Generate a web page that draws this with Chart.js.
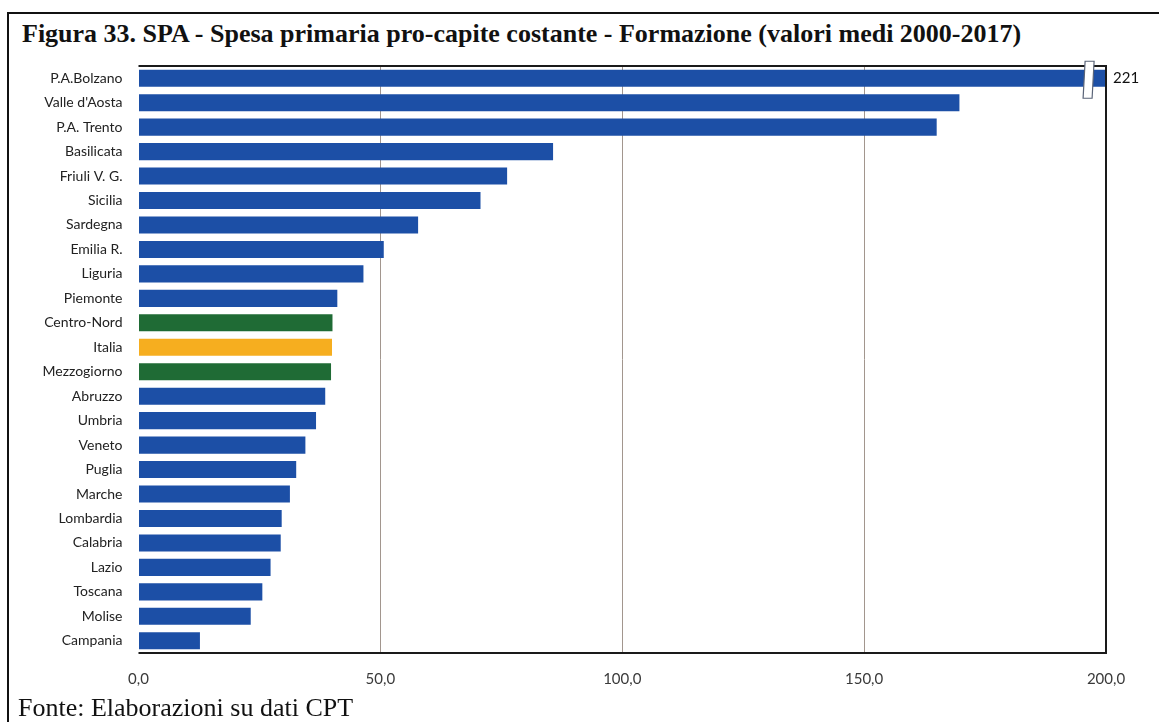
<!DOCTYPE html>
<html>
<head>
<meta charset="utf-8">
<script src="https://cdn.jsdelivr.net/npm/chart.js@4.4.1/dist/chart.umd.min.js"></script>
<style>
  html, body { margin: 0; padding: 0; background: #fff; overflow: hidden; }
  #wrap { position: relative; width: 1159px; height: 722px; }
  #frame {
    position: absolute; left: 7px; top: 12px; width: 1200px; height: 760px;
    border-left: 2px solid #111; border-top: 2px solid #111;
  }
  #title {
    position: absolute; left: 22px; top: 19px;
    font: bold 26px "Liberation Serif", "Times New Roman", serif; color: #111;
    white-space: nowrap;
  }
  #source {
    position: absolute; left: 18px; top: 693px;
    font: 26px "Liberation Serif", "Times New Roman", serif; color: #111;
    white-space: nowrap;
  }
  canvas { position: absolute; left: 0; top: 0; }
</style>
</head>
<body>
<div id="wrap">
  <div id="frame"></div>
  <div id="title">Figura 33. SPA - Spesa primaria pro-capite costante - Formazione (valori medi 2000-2017)</div>
  <canvas id="spaChart" width="1159" height="722"></canvas>
  <div id="source">Fonte: Elaborazioni su dati CPT</div>
</div>
<script>
"use strict";

const regions = [
  "P.A.Bolzano", "Valle d'Aosta", "P.A. Trento", "Basilicata", "Friuli V. G.",
  "Sicilia", "Sardegna", "Emilia R.", "Liguria", "Piemonte", "Centro-Nord",
  "Italia", "Mezzogiorno", "Abruzzo", "Umbria", "Veneto", "Puglia", "Marche",
  "Lombardia", "Calabria", "Lazio", "Toscana", "Molise", "Campania",
];

const spesa = [
  221, 169.7, 165.0, 85.7, 76.2, 70.7, 57.8, 50.7, 46.5, 41.1, 40.1,
  40.0, 39.8, 38.6, 36.7, 34.5, 32.6, 31.3, 29.6, 29.4, 27.3, 25.6, 23.2, 12.7,
];

const xTicks = [0, 50, 100, 150, 200];
const xMax = 200;

const BLUE = "#1c4fa6";
const GREEN = "#1f6b35";
const ORANGE = "#f6ae1f";

const barColors = regions.map((r) => {
  if (r === "Italia") return ORANGE;
  if (r === "Centro-Nord" || r === "Mezzogiorno") return GREEN;
  return BLUE;
});

// frame of the plot area: top, right and bottom only
const plotFrame = {
  id: "plotFrame",
  afterDatasetsDraw(chart) {
    const { ctx, chartArea: a } = chart;
    ctx.save();
    ctx.strokeStyle = "#1a1a1a";
    ctx.lineWidth = 2;
    ctx.beginPath();
    ctx.moveTo(a.left, a.top);
    ctx.lineTo(a.right, a.top);
    ctx.lineTo(a.right, a.bottom);
    ctx.lineTo(a.left, a.bottom);
    ctx.stroke();
    ctx.restore();
  },
};

// value label and break mark for bars that go past the axis max
const overflowMarks = {
  id: "overflowMarks",
  afterDraw(chart) {
    const { ctx } = chart;
    const xScale = chart.scales.x;
    const meta = chart.getDatasetMeta(0);
    spesa.forEach((v, i) => {
      if (v <= xMax) return;
      const bar = meta.data[i];
      const y = bar.y;
      const xb = xScale.getPixelForValue(196.3);
      ctx.save();
      ctx.fillStyle = "#ffffff";
      ctx.strokeStyle = "#5a6478";
      ctx.lineWidth = 1.2;
      ctx.beginPath();
      ctx.moveTo(xb - 3, y - 17);
      ctx.lineTo(xb + 6, y - 17);
      ctx.lineTo(xb + 4, y + 20);
      ctx.lineTo(xb - 5, y + 20);
      ctx.closePath();
      ctx.fill();
      ctx.stroke();
      ctx.fillStyle = "#111";
      ctx.font = "15px Lato, 'Open Sans', sans-serif";
      ctx.textAlign = "left";
      ctx.textBaseline = "middle";
      ctx.fillText(String(v), xScale.getPixelForValue(xMax) + 7, y);
      ctx.restore();
    });
  },
};

new Chart(document.getElementById("spaChart").getContext("2d"), {
  type: "bar",
  data: {
    labels: regions,
    datasets: [
      {
        data: spesa,
        backgroundColor: barColors,
        borderWidth: 0,
        barPercentage: 0.7,
        categoryPercentage: 1,
      },
    ],
  },
  options: {
    indexAxis: "y",
    responsive: false,
    animation: false,
    layout: { padding: { top: 66, right: 53, bottom: 29, left: 0 } },
    plugins: {
      legend: { display: false },
      tooltip: { enabled: false },
    },
    scales: {
      x: {
        min: 0,
        max: xMax,
        afterBuildTicks: (axis) => {
          axis.ticks = xTicks.map((v) => ({ value: v }));
        },
        afterFit: (axis) => {
          axis.height = 40;
        },
        grid: {
          drawTicks: false,
          color: (c) =>
            c.tick && c.tick.value > 0 && c.tick.value < xMax ? "#a2968e" : "rgba(0,0,0,0)",
          lineWidth: 1,
        },
        border: { display: false },
        ticks: {
          padding: 17,
          color: "#3a3a3a",
          font: { family: "Lato, 'Open Sans', sans-serif", size: 15 },
          callback: (v) => Number(v).toFixed(1).replace(".", ","),
        },
      },
      y: {
        afterFit: (axis) => {
          axis.width = 138.5;
        },
        grid: { display: false, drawTicks: false },
        border: { display: false },
        ticks: {
          autoSkip: false,
          padding: 16,
          color: "#222",
          font: { family: "Lato, 'Open Sans', sans-serif", size: 14 },
        },
      },
    },
  },
  plugins: [plotFrame, overflowMarks],
});
</script>
</body>
</html>
